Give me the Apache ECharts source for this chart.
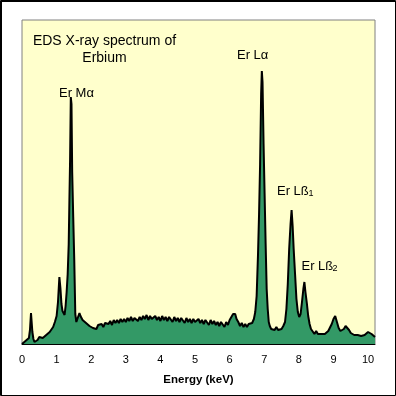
<!DOCTYPE html>
<html>
<head>
<meta charset="utf-8">
<style>
html,body{margin:0;padding:0;background:#fff;}
#chart{width:396px;height:396px;}
</style>
<script src="https://cdn.jsdelivr.net/npm/echarts@6/dist/echarts.min.js"></script>
</head>
<body>
<div id="chart"></div>
<script>
// Energy (keV) of each spectrum sample
const energy = [
0.00,0.05,0.10,0.15,0.20,0.23,0.26,0.28,0.30,0.33,0.36,0.40,0.45,0.50,0.55,0.60,0.65,0.70,0.75,0.80,0.85,0.90,0.95,1.00,
1.04,1.08,1.11,1.14,1.17,1.20,1.23,1.26,1.29,1.32,1.35,1.37,1.39,1.41,1.43,1.45,1.48,1.51,1.54,1.57,1.60,1.63,1.66,1.69,1.72,1.75,
1.80,1.85,1.90,1.95,2.00,2.05,2.10,2.15,2.20,2.25,2.30,2.35,2.40,2.45,2.50,2.55,2.60,2.65,2.70,2.75,2.80,2.85,2.90,2.95,
3.00,3.05,3.10,3.15,3.20,3.25,3.30,3.35,3.40,3.45,3.50,3.55,3.60,3.65,3.70,3.75,3.80,3.85,3.90,3.95,
4.00,4.05,4.10,4.15,4.20,4.25,4.30,4.35,4.40,4.45,4.50,4.55,4.60,4.65,4.70,4.75,4.80,4.85,4.90,4.95,
5.00,5.05,5.10,5.15,5.20,5.25,5.30,5.35,5.40,5.45,5.50,5.55,5.60,5.65,5.70,5.75,5.80,5.85,5.90,5.95,
6.00,6.05,6.10,6.13,6.16,6.20,6.25,6.30,6.35,6.40,6.45,6.50,6.55,6.60,6.65,6.70,6.74,6.78,6.82,6.85,6.88,6.91,6.93,6.95,6.98,
7.01,7.04,7.07,7.10,7.13,7.16,7.20,7.25,7.30,7.35,7.40,7.45,7.50,7.55,7.60,7.64,7.68,7.72,7.76,7.79,7.82,7.85,7.89,7.93,7.97,
8.01,8.05,8.09,8.13,8.16,8.19,8.23,8.27,8.31,8.35,8.40,8.45,8.50,8.55,8.60,8.65,8.70,8.75,8.80,8.85,8.90,8.95,
9.00,9.05,9.10,9.15,9.20,9.25,9.30,9.35,9.40,9.45,9.50,9.55,9.60,9.65,9.70,9.75,9.80,9.85,9.90,9.95,
10.00,10.05,10.10,10.15,10.20
];
// Counts (arbitrary units) at each energy
const counts = [
0,1,3,4,6,14,31,32,12,5,2,3,4,7,5,6,8,9,11,12,14,17,22,28,
42,67,56,40,33,31,29,38,52,70,100,144,185,247,240,172,127,84,30,22,24,28,31,28,26,24,
23,21,22,18,19,16,18,15,19,17,20,17,21,19,20,23,19,24,21,24,21,25,22,25,
22,26,23,27,23,26,28,23,27,24,28,25,29,24,28,25,23,28,24,27,
23,28,24,27,23,27,25,22,27,23,26,22,26,24,21,26,22,25,21,25,
22,20,25,21,24,20,24,22,19,24,20,23,19,22,18,22,20,17,22,19,
24,27,30,32,30,25,22,18,21,17,20,17,20,18,21,25,32,48,90,130,180,250,273,262,200,
150,100,55,35,22,18,15,17,14,17,14,16,15,18,22,35,60,95,120,134,118,95,70,45,32,
27,30,42,55,62,52,41,28,20,15,13,10,13,10,12,10,12,10,12,13,15,20,
25,28,22,16,13,13,15,18,17,14,11,12,9,11,9,10,8,10,9,11,
12,10,10,8,7
];
const xTicks = [0,1,2,3,4,5,6,7,8,9,10];
const titleLines = ['EDS X-ray spectrum of', 'Erbium'];
const xName = 'Energy (keV)';

const chart = echarts.init(document.getElementById('chart'), null, {renderer:'canvas'});
const font = '"Liberation Sans", Arial, sans-serif';
const seriesData = energy.map((e, i) => [e, counts[i]]);

function txt(x, y, text, size, align) {
  return {type:'text', x:x, y:y, z:100,
    style:{text:text, fontSize:size, fontFamily:font, fill:'#000', align:align||'left', verticalAlign:'middle'}};
}

chart.setOption({
  animation:false,
  backgroundColor:'#ffffff',
  grid:{left:22, right:21, top:20, bottom:52, show:true, backgroundColor:'#FFFFCC', borderColor:'#808080', borderWidth:1},
  xAxis:{
    type:'value', min:0, max:10.2, interval:1,
    z:10,
    axisLine:{show:true, onZero:false, lineStyle:{color:'#000', width:1}},
    axisTick:{show:false},
    splitLine:{show:false},
    axisLabel:{fontSize:11, fontFamily:font, color:'#000', margin:10, showMaxLabel:false,
      formatter: v => xTicks.includes(v) ? String(v) : ''},
    name:xName, nameLocation:'middle', nameGap:30,
    nameTextStyle:{fontSize:11.5, fontWeight:'bold', fontFamily:font, color:'#000'}
  },
  yAxis:{type:'value', min:0, max:324, show:false, splitLine:{show:false}},
  series:[{
    type:'line', data:seriesData, showSymbol:false, sampling:null,
    lineStyle:{color:'#000', width:2},
    areaStyle:{color:'#339966', opacity:1},
    z:2
  }],
  graphic:[
    {type:'rect', shape:{x:0.5,y:0.5,width:395,height:395}, style:{fill:null, stroke:'#000', lineWidth:1}, z:100},
    {type:'line', shape:{x1:1.5,y1:0,x2:1.5,y2:396}, style:{stroke:'#000', lineWidth:1}, z:100},
    {type:'line', shape:{x1:0,y1:1.5,x2:396,y2:1.5}, style:{stroke:'#000', lineWidth:1}, z:100},
    txt(104.5, 41, titleLines[0], 14, 'center'),
    txt(104.5, 58.5, titleLines[1], 14, 'center'),
    txt(59, 93.5, 'Er M\u03b1', 13),
    txt(237, 55, 'Er L\u03b1', 13),
    txt(277, 191.5, 'Er L\u00df', 13),
    txt(308.5, 194, '1', 9),
    txt(301.5, 266.5, 'Er L\u00df', 13),
    txt(332.5, 269, '2', 9)
  ]
});
</script>
</body>
</html>
